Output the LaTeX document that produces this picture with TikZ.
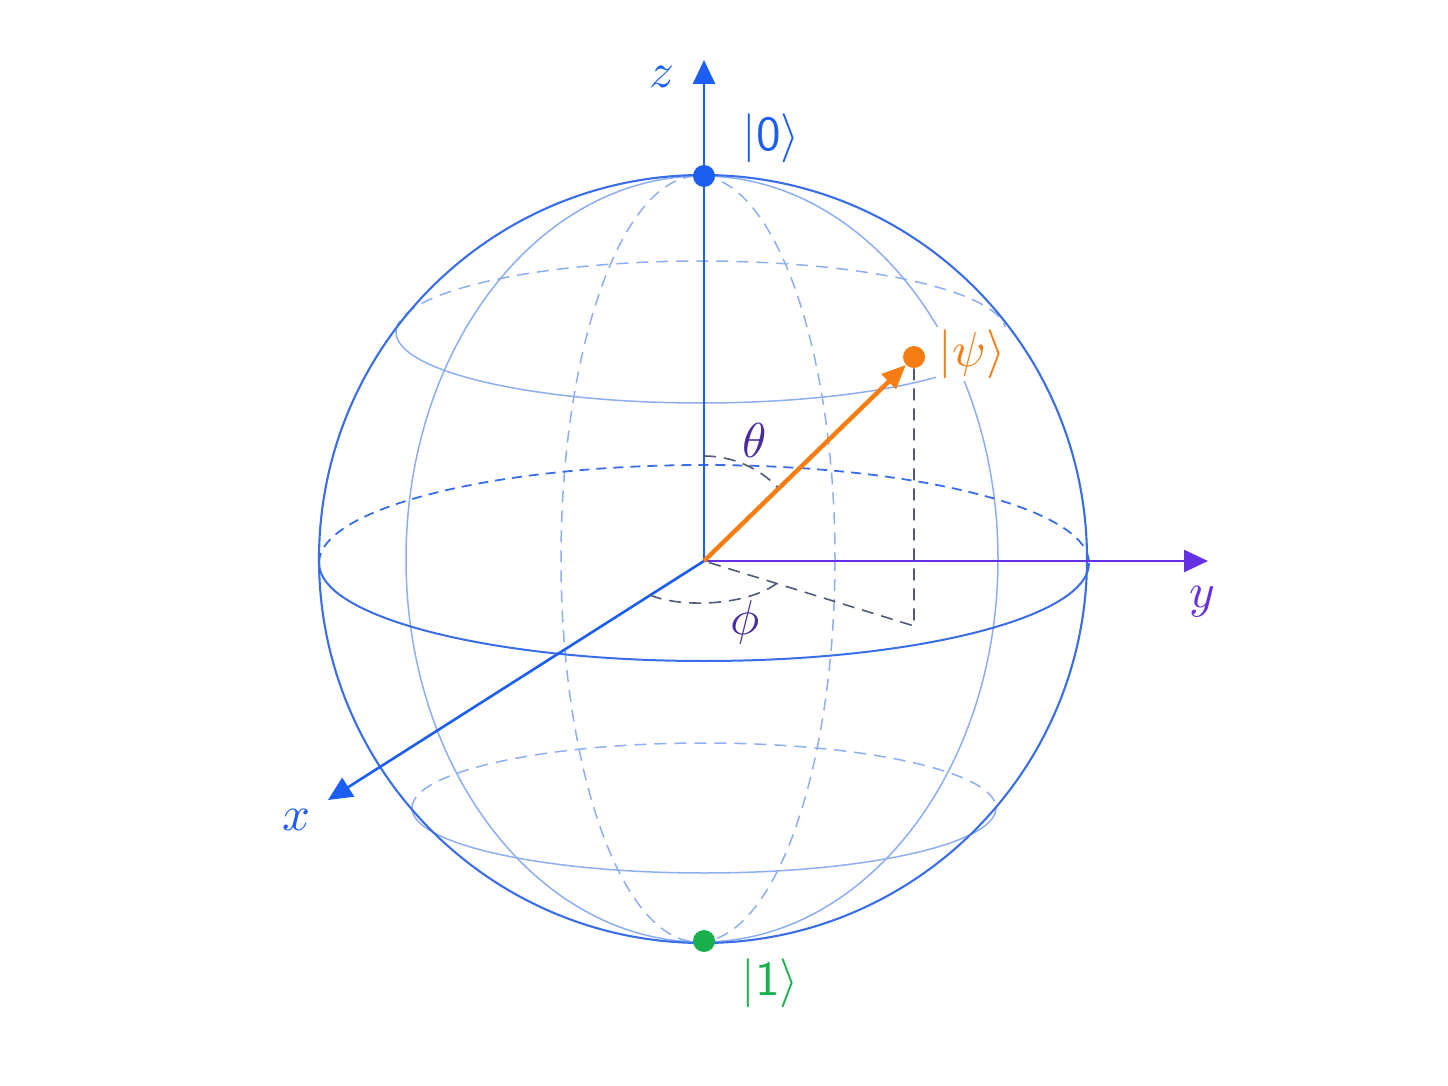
\documentclass[tikz,border=0pt]{standalone}
\usetikzlibrary{arrows.meta}
\definecolor{sph}{HTML}{3A6EE8}
\definecolor{gridc}{HTML}{8EAEF2}
\definecolor{axb}{HTML}{1C5EF2}
\definecolor{axp}{HTML}{6530E4}
\definecolor{grk}{HTML}{4A2CA0}
\definecolor{orng}{HTML}{F77D12}
\definecolor{grn}{HTML}{18B04C}
\definecolor{projc}{HTML}{4E5A76}
\tikzset{
  sphline/.style={draw=sph, line width=1.05pt},
  gridline/.style={draw=gridc, line width=0.75pt},
  griddash/.style={draw=gridc, line width=0.75pt, dash pattern=on 6pt off 4pt},
  eqline/.style={draw=sph, line width=1pt},
  eqdash/.style={draw=sph, line width=0.9pt, dash pattern=on 5pt off 3.5pt},
  projline/.style={draw=projc, line width=0.8pt, dash pattern=on 6pt off 4pt},
  axisarrow/.style={line width=1.3pt, -{Triangle[length=12pt,width=11pt]}},
  dotnode/.style={circle, inner sep=0pt, minimum size=11pt},
  lbl/.style={scale=2.45, inner sep=0.5pt}
}
\begin{document}
\begin{tikzpicture}[x=0.5pt,y=-0.5pt]
\useasboundingbox (0,0) rectangle (1448,1086);
\fill[white] (0,0) rectangle (1448,1086);
\coordinate (O) at (704,561);
\coordinate (ztip) at (704,60);
\coordinate (ytip) at (1208,561);
\coordinate (xtip) at (328,800);
\coordinate (P) at (914,626);

% meridians
\draw[gridline] (702,559) ellipse[x radius=296, y radius=383];
\draw[griddash] (698,559) ellipse[x radius=137, y radius=383];

% upper latitude
\draw[gridline] (1006,332) arc[start angle=0, end angle=180, x radius=305, y radius=71];
\draw[griddash] (396,332) arc[start angle=180, end angle=360, x radius=305, y radius=71];
% lower latitude
\draw[gridline] (996,808) arc[start angle=0, end angle=180, x radius=292, y radius=65];
\draw[griddash] (412,808) arc[start angle=180, end angle=360, x radius=292, y radius=65];
% equator
\draw[eqline] (1089,563) arc[start angle=0, end angle=180, x radius=385, y radius=98];
\draw[eqdash] (319,563) arc[start angle=180, end angle=360, x radius=385, y radius=98];

% sphere outline
\draw[sphline] (703,559) circle[radius=384];

% axes
\draw[axisarrow, draw=axb, fill=axb] (O) -- (ztip);
\draw[axisarrow, draw=axp, fill=axp] (O) -- (ytip);
\draw[axisarrow, draw=axb, fill=axb] (O) -- (xtip);

% state vector
\node[dotnode, fill=orng] (psi) at (914,357) {};
\draw[projline] (psi) -- (P) -- (O);
\draw[orng, line width=2.2pt, -{Triangle[length=12pt,width=10pt]}] (O) -- (psi);

% angle arcs
\draw[projline] ([shift={(-90:105)}]O) arc[start angle=-90, end angle=-44, radius=102];
\coordinate (phiA) at (650,595);
\coordinate (phiB) at (776,584);
\draw[projline] (phiA) .. controls (680,608) and (745,606) .. (phiB);

% poles
\node[dotnode, fill=axb] (zero) at (704,176) {};
\node[dotnode, fill=grn] (one) at (704,941) {};

% labels
\node[lbl, text=axb] (zl) at (662,77) {$z$};
\node[lbl, text=axp] (yl) at (1202,602) {$y$};
\node[lbl, text=axb] (xl) at (297,820) {$x$};
\node[lbl, text=axb] (zerol) at (771,138) {$|\mathsf{0}\rangle$};
\node[lbl, text=grn] (onel) at (770,983) {$|\mathsf{1}\rangle$};
\node[lbl, text=orng, fill=white] (psil) at (972,354) {$|\psi\rangle$};
\node[lbl, text=grk] (thl) at (755,440) {$\theta$};
\node[lbl, text=grk] (phl) at (745,622) {$\phi$};
\end{tikzpicture}
\end{document}
